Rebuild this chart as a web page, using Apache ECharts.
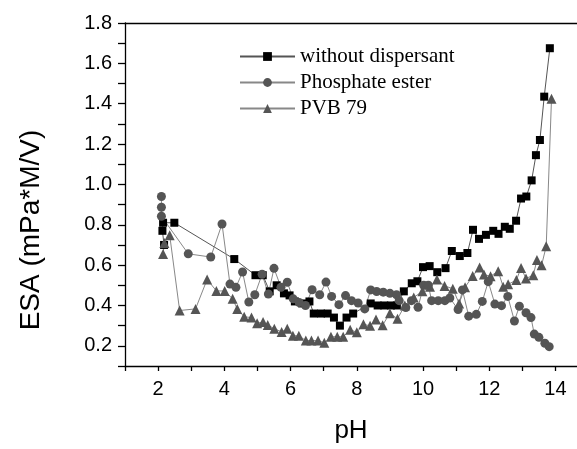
<!DOCTYPE html>
<html>
<head>
<meta charset="utf-8">
<script src="https://cdn.jsdelivr.net/npm/echarts@6/dist/echarts.min.js"></script>
<style>
html,body{margin:0;padding:0;overflow:hidden;background:#fff;}
#c{width:577px;height:449px;}
</style>
</head>
<body>
<div id="c"></div>
<script>
var seriesNames = ["without dispersant", "Phosphate ester", "PVB 79"];
var xTitle = "pH";
var yTitle = "ESA (mPa*M/V)";

var pH_none = [2.18,2.13,2.15,2.49,4.30,4.94,5.16,5.37,5.58,5.80,5.97,6.13,6.35,6.57,6.70,6.92,7.12,7.31,7.49,7.69,7.89,8.42,8.63,8.83,9.03,9.21,9.42,9.66,9.83,10.00,10.20,10.43,10.68,10.87,11.11,11.34,11.51,11.69,11.90,12.12,12.28,12.47,12.62,12.81,12.96,13.12,13.28,13.41,13.53,13.66,13.83];
var esa_none = [0.70,0.77,0.81,0.81,0.63,0.55,0.55,0.47,0.50,0.46,0.45,0.42,0.41,0.42,0.36,0.36,0.36,0.34,0.30,0.34,0.36,0.41,0.40,0.40,0.40,0.40,0.47,0.51,0.52,0.59,0.595,0.565,0.585,0.67,0.645,0.66,0.775,0.73,0.75,0.77,0.755,0.79,0.78,0.82,0.93,0.94,1.02,1.145,1.22,1.435,1.675];

var pH_phos = [2.10,2.10,2.10,2.91,3.59,3.93,4.17,4.35,4.55,4.74,4.92,5.14,5.33,5.50,5.71,5.90,6.08,6.26,6.45,6.65,6.88,7.07,7.24,7.46,7.66,7.84,8.04,8.24,8.42,8.60,8.80,9.00,9.20,9.28,9.48,9.65,9.85,10.02,10.16,10.26,10.46,10.66,10.81,11.06,11.19,11.38,11.61,11.79,11.97,12.17,12.37,12.56,12.76,12.91,13.11,13.26,13.36,13.50,13.68,13.81];
var esa_phos = [0.94,0.887,0.842,0.656,0.64,0.804,0.506,0.49,0.566,0.417,0.453,0.555,0.457,0.584,0.49,0.515,0.433,0.415,0.40,0.478,0.453,0.516,0.445,0.404,0.449,0.424,0.412,0.383,0.477,0.469,0.466,0.46,0.453,0.424,0.39,0.424,0.391,0.50,0.50,0.424,0.424,0.424,0.437,0.38,0.477,0.347,0.356,0.42,0.518,0.407,0.399,0.445,0.323,0.396,0.364,0.34,0.258,0.242,0.213,0.196];

var pH_pvb = [2.15,2.19,2.35,2.65,3.13,3.48,3.76,4.01,4.25,4.39,4.60,4.82,4.99,5.17,5.31,5.51,5.73,5.90,6.07,6.25,6.46,6.63,6.83,7.02,7.22,7.41,7.59,7.80,8.00,8.20,8.40,8.58,8.78,9.00,9.23,9.45,9.72,9.98,10.21,10.42,10.65,10.90,11.09,11.27,11.50,11.71,11.84,12.04,12.27,12.42,12.57,12.82,12.96,13.11,13.33,13.44,13.58,13.72,13.88];
var esa_pvb = [0.655,0.71,0.748,0.375,0.383,0.529,0.472,0.472,0.433,0.383,0.344,0.34,0.312,0.318,0.303,0.285,0.269,0.285,0.25,0.25,0.226,0.226,0.226,0.215,0.245,0.245,0.245,0.28,0.267,0.307,0.299,0.331,0.302,0.362,0.334,0.40,0.44,0.47,0.493,0.529,0.497,0.483,0.41,0.49,0.546,0.588,0.553,0.545,0.57,0.493,0.505,0.526,0.586,0.534,0.55,0.625,0.599,0.693,1.425];

function pairs(xs, ys){ return xs.map(function(x,i){ return [x, ys[i]]; }); }

var chart = echarts.init(document.getElementById('c'), null, {renderer:'canvas'});
var sans = 'Liberation Sans, Arial, sans-serif';
var axisFont = {fontFamily:sans, fontSize:20, color:'#000'};
var evenLabel = function(v){ var r=Math.round(v); return (Math.abs(v-r)<1e-6 && r%2===0) ? String(r) : ''; };
chart.setOption({
  animation:false,
  backgroundColor:'#fff',
  grid:{left:125, right:0, top:23, bottom:76, show:false},
  legend:{
    orient:'vertical', left:234, top:41, itemWidth:55, itemHeight:11, itemGap:5,
    textStyle:{fontFamily:'Liberation Serif, Times New Roman, serif', fontSize:21, color:'#000'},
    data:seriesNames
  },
  graphic:[{
    type:'text', x:31, y:230, rotation:Math.PI/2,
    style:{text:yTitle, fontFamily:sans, fontSize:28, fill:'#000', textAlign:'center', textVerticalAlign:'middle'}
  }],
  xAxis:[{
    type:'value', min:1, max:14.65, interval:1, position:'bottom',
    name:xTitle, nameLocation:'middle', nameGap:52,
    nameTextStyle:{fontFamily:sans, fontSize:26, color:'#000'},
    axisLine:{onZero:false, lineStyle:{color:'#000', width:1.3}},
    axisTick:{show:true, length:5, lineStyle:{color:'#000', width:1.3}},
    axisLabel:Object.assign({margin:13, showMaxLabel:false, formatter:evenLabel}, axisFont),
    splitLine:{show:false}
  },{
    type:'value', min:1, max:14.65, position:'top',
    axisLine:{onZero:false, lineStyle:{color:'#000', width:1.3}},
    axisTick:{show:false}, axisLabel:{show:false}, splitLine:{show:false}
  }],
  yAxis:{
    type:'value', min:0.1, max:1.8, interval:0.1,
    axisLine:{onZero:false, lineStyle:{color:'#000', width:1.3}},
    axisTick:{show:true, length:7, lineStyle:{color:'#000', width:1.3}},
    axisLabel:Object.assign({margin:13, formatter:function(v){ var k=Math.round(v*10); return (k%2===0) ? (k/10).toFixed(1) : ''; }}, axisFont),
    splitLine:{show:false}
  },
  series:[
    {name:seriesNames[0], type:'line', data:pairs(pH_none, esa_none), symbol:'rect', symbolSize:8,
     itemStyle:{color:'#000'}, lineStyle:{color:'#555', width:1}},
    {name:seriesNames[1], type:'line', data:pairs(pH_phos, esa_phos), symbol:'circle', symbolSize:9,
     itemStyle:{color:'#555'}, lineStyle:{color:'#888', width:1}},
    {name:seriesNames[2], type:'line', data:pairs(pH_pvb, esa_pvb), symbol:'triangle', symbolSize:10,
     itemStyle:{color:'#555'}, lineStyle:{color:'#888', width:1}}
  ]
});
</script>
</body>
</html>
